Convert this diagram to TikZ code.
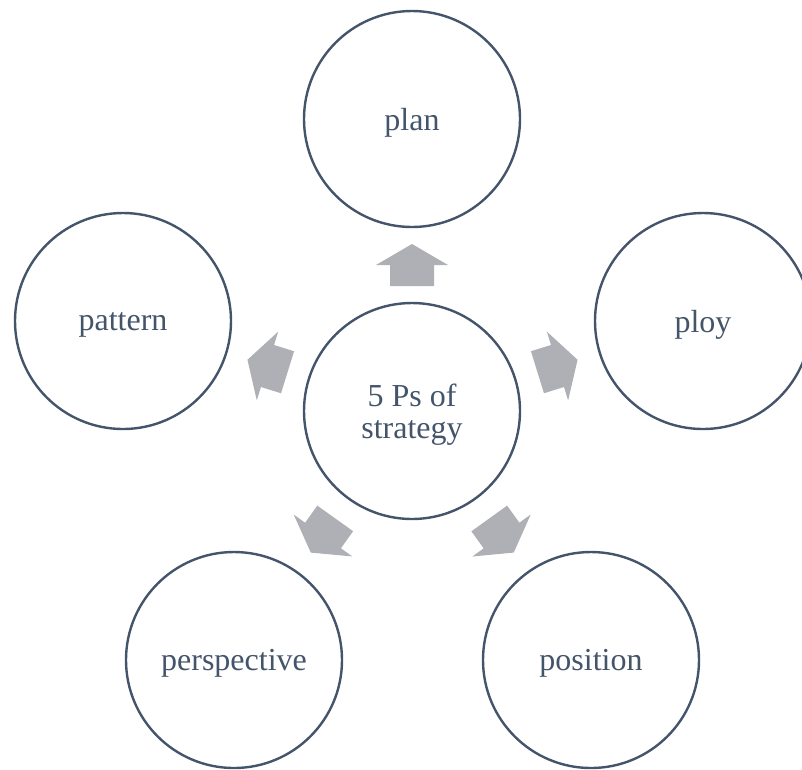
\documentclass[tikz,border=0pt]{standalone}
\usepackage{fontspec}
\setmainfont{Liberation Serif}
\usetikzlibrary{calc}
\definecolor{ringblue}{HTML}{44546A}
\definecolor{arrowgray}{HTML}{AEB0B6}
\tikzset{
  bubble/.style={circle, draw=ringblue, line width=1.8pt, minimum size=162pt,
    inner sep=0pt, text=ringblue, align=center, text depth=0pt,
    font=\fontsize{24}{24}\selectfont},
  pics/blockarrow/.style={code={
    \fill[arrowgray] (-21,-22) -- (0,-22) -- (0,-36) -- (21,0) -- (0,36)
      -- (0,22) -- (-21,22) -- cycle;}}
}
\newcommand{\pointer}[2]{%
  \path let \p1=($(#2)-(#1)$), \n1={atan2(\y1,\x1)} in
    ($(#1)!0.5!(#2)$) pic[rotate=\n1]{blockarrow};}
\begin{document}
\begin{tikzpicture}[x=0.75pt, y=-0.75pt]
      \useasboundingbox (0,0) rectangle (802,769);
      \path
        (412,411) node[bubble] (ctr){5 Ps of\\strategy}
        (412,119) node[bubble] (plan){plan}
        (703,321) node[bubble] (ploy){ploy}
        (123,321) node[bubble] (pattern){pattern}
        (234,660) node[bubble] (persp){perspective}
        (591,660) node[bubble] (posn){position};
      \pointer{ctr}{plan}
      \pointer{ctr}{ploy}
      \pointer{ctr}{pattern}
      \pointer{ctr}{persp}
      \pointer{ctr}{posn}
    \end{tikzpicture}
\end{document}
